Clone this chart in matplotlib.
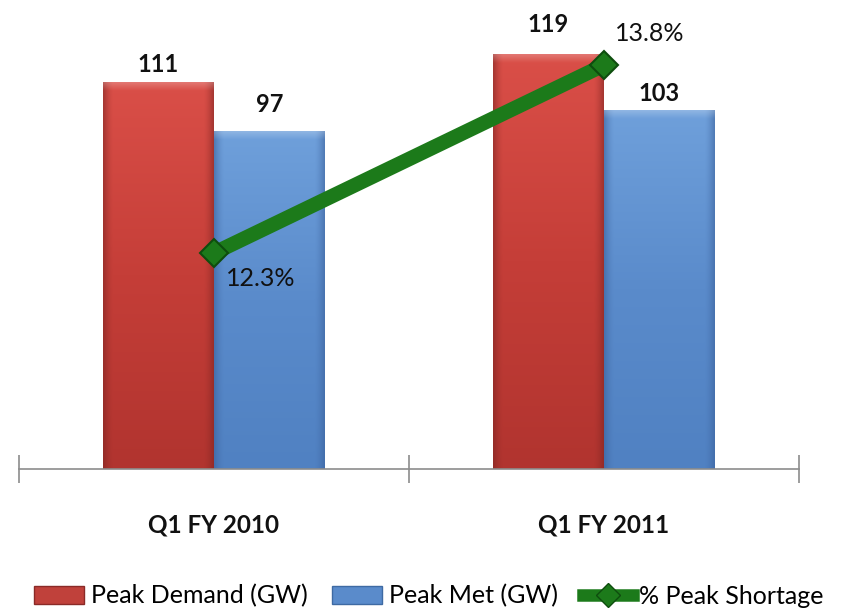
import numpy as np
import matplotlib
matplotlib.use("Agg")
import matplotlib.pyplot as plt
from matplotlib.lines import Line2D
from matplotlib.patches import Patch

# ---- data ----
categories = ["Q1 FY 2010", "Q1 FY 2011"]
peak_demand = [111, 119]
peak_met = [97, 103]
peak_shortage = [12.3, 13.8]
series_names = ["Peak Demand (GW)", "Peak Met (GW)", "% Peak Shortage"]

# ---- style ----
plt.rcParams['font.family'] = ['Lato', 'DejaVu Sans']
DPI = 100
fig = plt.figure(figsize=(8.44, 6.10), dpi=DPI)
ax = fig.add_axes([19/844, 141/610, 780/844, 469/610])
ax.set_xlim(-0.5, 1.5)
ax.set_ylim(0, 134.4)

x = np.arange(len(categories))
bw = 0.2846

red_bars = ax.bar(x - bw/2, peak_demand, bw, color="#C0413B", linewidth=0, zorder=2)
blue_bars = ax.bar(x + bw/2, peak_met, bw, color="#5A8BCB", linewidth=0, zorder=2)


def gradient_fill(bars, top, mid, bottom, edge):
    top, mid, bottom, edge = [np.array(matplotlib.colors.to_rgb(c)) for c in (top, mid, bottom, edge)]
    ny, nx = 300, 80
    t = np.linspace(0, 1, ny)[:, None, None]
    vert = np.where(t < 0.5, top + (mid - top) * (t / 0.5), mid + (bottom - mid) * ((t - 0.5) / 0.5))
    u = np.linspace(-1, 1, nx)[None, :, None]
    w = np.clip((np.abs(u) - 0.82) / 0.18, 0, 1) ** 1.5
    img = vert * (1 - w * 0.55) + edge * (w * 0.55)
    for b in bars:
        x0, y0 = b.get_x(), b.get_y()
        x1, y1 = x0 + b.get_width(), y0 + b.get_height()
        # top bevel: lighten the first few pixels
        px_h = (y1 - y0) * 3.49
        tb = np.linspace(0, px_h, ny)[:, None, None]
        light = np.clip(1 - tb / 9.0, 0, 1) * 0.25
        im_arr = img * (1 - light) + light
        im = ax.imshow(np.clip(im_arr, 0, 1), extent=[x0, x1, y0, y1], origin="upper",
                       aspect="auto", zorder=2.1, interpolation="bilinear")
        im.set_clip_path(b)


gradient_fill(red_bars, "#DA4F48", "#C53E38", "#B1342F", "#7E2522")
gradient_fill(blue_bars, "#6FA0DB", "#5A8BCB", "#5081C2", "#3A609A")
ax.set_xlim(-0.5, 1.5)
ax.set_ylim(0, 134.4)

# bar value labels (offsets in pixels)
red_off = [17, 29]
blue_off = [26, 16]
for b, v, off in zip(red_bars, peak_demand, red_off):
    ax.annotate(str(v), (b.get_x() + b.get_width()/2, b.get_height()), xytext=(0, off*72/DPI),
                textcoords="offset points", ha="center", va="center", fontsize=17,
                fontweight="bold", color="#111111", zorder=5)
for b, v, off in zip(blue_bars, peak_met, blue_off):
    ax.annotate(str(v), (b.get_x() + b.get_width()/2, b.get_height()), xytext=(0, off*72/DPI),
                textcoords="offset points", ha="center", va="center", fontsize=17,
                fontweight="bold", color="#111111", zorder=5)

# axes styling
for s in ["top", "left", "right"]:
    ax.spines[s].set_visible(False)
ax.spines["bottom"].set_color("#8C8C8C")
ax.spines["bottom"].set_linewidth(1.2)
ax.set_yticks([])
ax.set_xticks(x)
ax.set_xticklabels(categories, fontsize=17.5, fontweight="bold", color="#111111")
ax.tick_params(axis="x", which="major", length=0, pad=32)
ax.set_xticks([-0.5, 0.5, 1.5], minor=True)
ax.tick_params(axis="x", which="minor", direction="inout", length=20, width=1.2, color="#8C8C8C")
ax.patch.set_visible(False)

# secondary axis for shortage line
ax2 = ax.twinx()
ax2.set_ylim(10.577, 14.319)
for s in ax2.spines.values():
    s.set_visible(False)
ax2.set_yticks([])
ax2.plot(x, peak_shortage, color="#1C7A1A", lw=10.5, solid_capstyle="butt", zorder=6,
         marker="D", markersize=14, markerfacecolor="#1C7A1A", markeredgecolor="#0E4D0E",
         markeredgewidth=1.5)
pct_off = [(47, -25), (46, 32)]
for xi, v, (dx, dy) in zip(x, peak_shortage, pct_off):
    ax2.annotate(f"{v}%", (xi, v), xytext=(dx*72/DPI, dy*72/DPI), textcoords="offset points",
                 ha="center", va="center", fontsize=18, color="#111111", zorder=7)

# legend
handles = [
    Patch(facecolor="#C0413B", edgecolor="#8A2A27", linewidth=1),
    Patch(facecolor="#5A8BCB", edgecolor="#3E6AA3", linewidth=1),
    Line2D([0], [0], color="#1C7A1A", lw=9, marker="D", markersize=12,
           markerfacecolor="#1C7A1A", markeredgecolor="#0E4D0E"),
]
fig.legend(handles, series_names, loc="center", bbox_to_anchor=(429/844, 14/610),
           ncol=3, frameon=False, fontsize=18, handlelength=2.0, handleheight=0.7,
           handletextpad=0.25, columnspacing=1.0, borderpad=0)

fig.savefig("out.png", dpi=DPI)
